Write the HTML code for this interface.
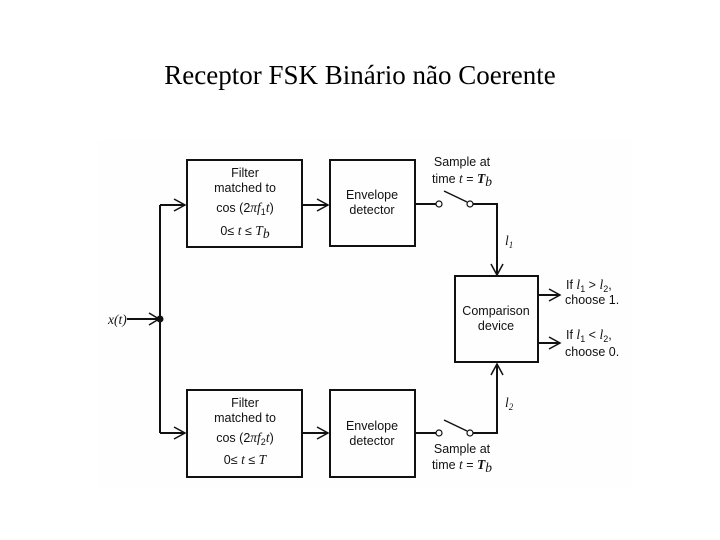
<!DOCTYPE html>
<html><head><meta charset="utf-8"><style>
body{margin:0;width:720px;height:540px;background:#fff;overflow:hidden}
.t{position:absolute;left:0;width:720px;top:60px;text-align:center;font-family:"Liberation Serif",serif;font-size:27px;color:#000}
svg{position:absolute;left:0;top:0}
text{font-family:"Liberation Sans",sans-serif;font-size:12.5px;fill:#111}
.i{font-family:"Liberation Serif",serif;font-style:italic;font-size:13.5px}
</style></head><body>
<div class="t">Receptor FSK Binário não Coerente</div>
<svg width="720" height="540" viewBox="0 0 720 540">
<rect x="98" y="140" width="534" height="348" fill="#fefefe"/>
<g fill="none" stroke="#111" stroke-width="2">
<rect x="187" y="160" width="115" height="87"/>
<rect x="330" y="160" width="85" height="86"/>
<rect x="187" y="390" width="115" height="87"/>
<rect x="330" y="390" width="85" height="87"/>
<rect x="455" y="276" width="83" height="86"/>
<path d="M127 319H160M160 205V433M160 205H185M160 433H185M302 205H328M302 433H328"/>
<path d="M415 204H436M473 204H497V275M415 433H436M473 433H497V364"/>
<path d="M538 295H560M538 343H560"/>
<path d="M444 191L467 202M444 420L467 431" stroke-width="1.5"/>
<path d="M174 199L185 205L174 211M174 427L185 433L174 439M317 199L328 205L317 211M317 427L328 433L317 439M149 313L159 319L149 325M491 264L497 275L503 264M491 375L497 364L503 375M549 289L560 295L549 301M549 337L560 343L549 349" stroke-width="1.5"/>
</g>
<circle cx="160" cy="319" r="3.5" fill="#111"/>
<g fill="#fff" stroke="#111" stroke-width="1.2">
<circle cx="439" cy="204" r="3"/><circle cx="470" cy="204" r="3"/>
<circle cx="439" cy="433" r="3"/><circle cx="470" cy="433" r="3"/>
</g>
<g text-anchor="middle">
<text x="245" y="177">Filter</text><text x="245" y="192">matched to</text>
<text x="245" y="212">cos (2<tspan class="i">πf</tspan><tspan font-size="9" dy="3">1</tspan><tspan class="i" dy="-3">t</tspan>)</text>
<text x="245" y="235">0≤ <tspan class="i">t</tspan> ≤ <tspan class="i">T</tspan><tspan class="i" font-size="9" dy="3">b</tspan></text>
<text x="372" y="199">Envelope</text><text x="372" y="214">detector</text>
<text x="245" y="407">Filter</text><text x="245" y="422">matched to</text>
<text x="245" y="442">cos (2<tspan class="i">πf</tspan><tspan font-size="9" dy="3">2</tspan><tspan class="i" dy="-3">t</tspan>)</text>
<text x="245" y="464">0≤ <tspan class="i">t</tspan> ≤ <tspan class="i">T</tspan></text>
<text x="372" y="430">Envelope</text><text x="372" y="445">detector</text>
<text x="496" y="315">Comparison</text><text x="496" y="330">device</text>
<text x="462" y="166">Sample at</text>
<text x="462" y="183">time <tspan class="i">t</tspan> = <tspan class="i" font-weight="bold">T</tspan><tspan class="i" font-size="9" dy="3">b</tspan></text>
<text x="462" y="453">Sample at</text>
<text x="462" y="469">time <tspan class="i">t</tspan> = <tspan class="i" font-weight="bold">T</tspan><tspan class="i" font-size="9" dy="3">b</tspan></text>
</g>
<text x="108" y="324" class="i">x(t)</text>
<text x="505" y="245" class="i">l<tspan font-size="9" dy="3">1</tspan></text>
<text x="505" y="407" class="i">l<tspan font-size="9" dy="3">2</tspan></text>
<text x="566" y="289">If <tspan class="i">l</tspan><tspan font-size="9" dy="3">1</tspan><tspan dy="-3"> &gt; </tspan><tspan class="i">l</tspan><tspan font-size="9" dy="3">2</tspan><tspan dy="-3">,</tspan></text>
<text x="565" y="304">choose 1.</text>
<text x="566" y="339">If <tspan class="i">l</tspan><tspan font-size="9" dy="3">1</tspan><tspan dy="-3"> &lt; </tspan><tspan class="i">l</tspan><tspan font-size="9" dy="3">2</tspan><tspan dy="-3">,</tspan></text>
<text x="565" y="356">choose 0.</text>
</svg>
</body></html>
